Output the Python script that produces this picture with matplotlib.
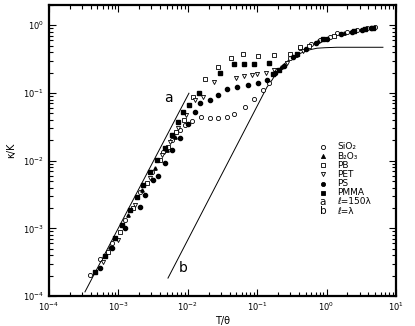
import matplotlib
matplotlib.use("Agg")
import matplotlib.pyplot as plt
from matplotlib.ticker import LogLocator, NullFormatter

plt.rcParams["font.family"] = ["DejaVu Sans"]
plt.rcParams["mathtext.fontset"] = "dejavusans"

# --- data (T/theta, kappa/K) ---
sio2_x = [3.90e-4, 5.43e-4, 8.09e-4, 1.245e-3, 2.05e-3, 3.05e-3, 4.39e-3, 5.92e-3, 7.72e-3,
          0.00912, 0.0115, 0.0155, 0.0209, 0.0272, 0.0367, 0.0463, 0.0667, 0.090,
          0.12, 0.15, 0.297, 0.414, 0.60, 0.804, 1.12, 1.41, 1.97, 2.74, 3.82, 4.98]
sio2_y = [2.04e-4, 3.52e-4, 6.05e-4, 1.32e-3, 3.43e-3, 6.76e-3, 0.01334, 0.0201, 0.0282,
          0.0334, 0.0383, 0.0439, 0.0424, 0.0424, 0.0439, 0.0486, 0.0616, 0.0809,
          0.11, 0.14, 0.326, 0.458, 0.52, 0.601, 0.66, 0.762, 0.79, 0.844, 0.90, 0.934]

b2o3_x = [7.57e-4, 1.374e-3, 2.19e-3, 3.37e-3, 5.01e-3, 6.54e-3, 0.22, 0.36, 0.75, 1.8]
b2o3_y = [5.28e-4, 1.57e-3, 3.67e-3, 7.74e-3, 0.01429, 0.0222, 0.24, 0.36, 0.58, 0.77]

pb_x = [7.08e-4, 1.054e-3, 1.622e-3, 2.58e-3, 3.97e-3, 5.19e-3, 6.76e-3, 8.81e-3,
        0.0119, 0.0177, 0.0272, 0.0419, 0.0624, 0.1027, 0.1746, 0.30, 0.41, 0.55, 1.3]
pb_y = [4.46e-4, 8.81e-4, 1.99e-3, 4.66e-3, 0.01016, 0.0158, 0.0264, 0.0396,
        0.0865, 0.160, 0.240, 0.326, 0.373, 0.349, 0.361, 0.38, 0.47, 0.50, 0.70]

pet_x = [6.00e-4, 9.86e-4, 1.734e-3, 2.85e-3, 4.25e-3, 5.55e-3, 7.22e-3, 9.42e-3,
         0.0127, 0.0166, 0.0239, 0.0496, 0.0646, 0.0846, 0.0993, 0.134, 0.175, 0.2, 0.27, 0.46]
pet_y = [3.18e-4, 6.71e-4, 2.20e-3, 5.52e-3, 0.01205, 0.01875, 0.0302, 0.0470,
         0.078, 0.0865, 0.144, 0.165, 0.177, 0.183, 0.189, 0.196, 0.217, 0.22, 0.28, 0.42]

ps_x = [5.43e-4, 8.09e-4, 1.245e-3, 2.05e-3, 2.42e-3, 3.15e-3, 3.72e-3, 4.69e-3, 5.92e-3,
        7.72e-3, 0.01007, 0.0127, 0.0150, 0.0209, 0.0272, 0.0367, 0.0512, 0.0736, 0.103,
        0.138, 0.18, 0.24, 0.33, 0.50, 0.70, 1.0, 1.6, 2.3, 3.2, 4.4]
ps_y = [2.59e-4, 5.11e-4, 1.01e-3, 2.06e-3, 3.10e-3, 5.15e-3, 5.90e-3, 9.19e-3, 0.01429,
        0.0215, 0.0346, 0.0520, 0.0706, 0.078, 0.0927, 0.1136, 0.1216, 0.130, 0.139,
        0.154, 0.20, 0.25, 0.34, 0.45, 0.55, 0.63, 0.74, 0.80, 0.85, 0.90]

pmma_x = [4.60e-4, 6.41e-4, 8.93e-4, 1.127e-3, 1.469e-3, 1.853e-3, 2.26e-3, 2.85e-3,
          3.60e-3, 4.69e-3, 5.92e-3, 7.22e-3, 8.53e-3, 0.0104, 0.0145, 0.0291, 0.0463,
          0.0646, 0.0900, 0.148, 0.17, 0.21, 0.38, 0.9, 2.5, 3.6, 4.6]
pmma_y = [2.26e-4, 3.89e-4, 7.18e-4, 1.117e-3, 1.86e-3, 2.89e-3, 4.35e-3, 6.76e-3,
          0.01016, 0.01531, 0.0238, 0.0370, 0.0520, 0.0659, 0.0991, 0.196, 0.266,
          0.266, 0.266, 0.275, 0.19, 0.22, 0.38, 0.62, 0.82, 0.87, 0.91]

# theory curves a (l = 150 lambda) and b (l = lambda)
line_a_x = [3.30e-4, 0.0104]
line_a_y = [1.15e-4, 0.0991]
line_b_x = [5.19e-3, 0.1384, 0.163, 0.193, 0.243, 0.297, 0.362, 0.457, 0.577, 0.728, 0.949, 1.41, 6.50]
line_b_y = [1.84e-4, 0.1216, 0.154, 0.202, 0.266, 0.315, 0.361, 0.399, 0.435, 0.458, 0.466, 0.473, 0.473]

fig = plt.figure(figsize=(4.15, 3.26), dpi=100)
ax = fig.add_axes([0.118, 0.092, 0.836, 0.893])

ax.plot(line_a_x, line_a_y, color="black", lw=0.7)
ax.plot(line_b_x, line_b_y, color="black", lw=0.7)

ms = 3.0
ax.plot(sio2_x, sio2_y, "o", ms=ms, mfc="white", mec="black", mew=0.6)
ax.plot(b2o3_x, b2o3_y, "^", ms=ms - 0.6, color="black")
ax.plot(pb_x, pb_y, "s", ms=ms, mfc="white", mec="black", mew=0.6)
ax.plot(pet_x, pet_y, "v", ms=ms, mfc="white", mec="black", mew=0.6)
ax.plot(ps_x, ps_y, "o", ms=ms, color="black")
ax.plot(pmma_x, pmma_y, "s", ms=ms, color="black")

ax.text(5.19e-3, 0.0837, "a", fontsize=10, ha="center", va="center")
ax.text(8.53e-3, 2.59e-4, "b", fontsize=10, ha="center", va="center")

ax.set_xscale("log")
ax.set_yscale("log")
ax.set_xlim(1e-4, 1e1)
ax.set_ylim(1e-4, 2.0)

ax.xaxis.set_major_locator(LogLocator(base=10, numticks=10))
ax.yaxis.set_major_locator(LogLocator(base=10, numticks=10))
ax.xaxis.set_minor_locator(LogLocator(base=10, subs=range(2, 10), numticks=20))
ax.yaxis.set_minor_locator(LogLocator(base=10, subs=range(2, 10), numticks=20))
ax.xaxis.set_minor_formatter(NullFormatter())
ax.yaxis.set_minor_formatter(NullFormatter())
ax.tick_params(which="both", direction="in", top=True, right=True, labelsize=6, width=0.8)
ax.tick_params(which="major", length=5)
ax.tick_params(which="minor", length=3)
for s in ax.spines.values():
    s.set_linewidth(1.6)

ax.set_xlabel("T/θ", fontsize=7, labelpad=2)
ax.set_ylabel("κ/K", fontsize=7, labelpad=5)

# legend, drawn by hand
leg = [("o", "white", "SiO₂"), ("^", "black", "B₂O₃"), ("s", "white", "PB"),
       ("v", "white", "PET"), ("o", "black", "PS"), ("s", "black", "PMMA")]
y0 = 0.512
dy = 0.0315
for i, (m, fc, lab) in enumerate(leg):
    yy = y0 - i * dy
    ax.plot([0.790], [yy], m, transform=ax.transAxes, ms=ms, mfc=fc, mec="black", mew=0.6)
    ax.text(0.830, yy, lab, transform=ax.transAxes, fontsize=6.5, va="center")
ax.text(0.790, y0 - 6 * dy, "a", transform=ax.transAxes, fontsize=7.5, va="center", ha="center")
ax.text(0.830, y0 - 6 * dy, "ℓ=150λ", transform=ax.transAxes, fontsize=6.5, va="center")
ax.text(0.790, y0 - 7 * dy, "b", transform=ax.transAxes, fontsize=7.5, va="center", ha="center")
ax.text(0.830, y0 - 7 * dy, "ℓ=λ", transform=ax.transAxes, fontsize=6.5, va="center")

fig.savefig("out.png", dpi=100)
